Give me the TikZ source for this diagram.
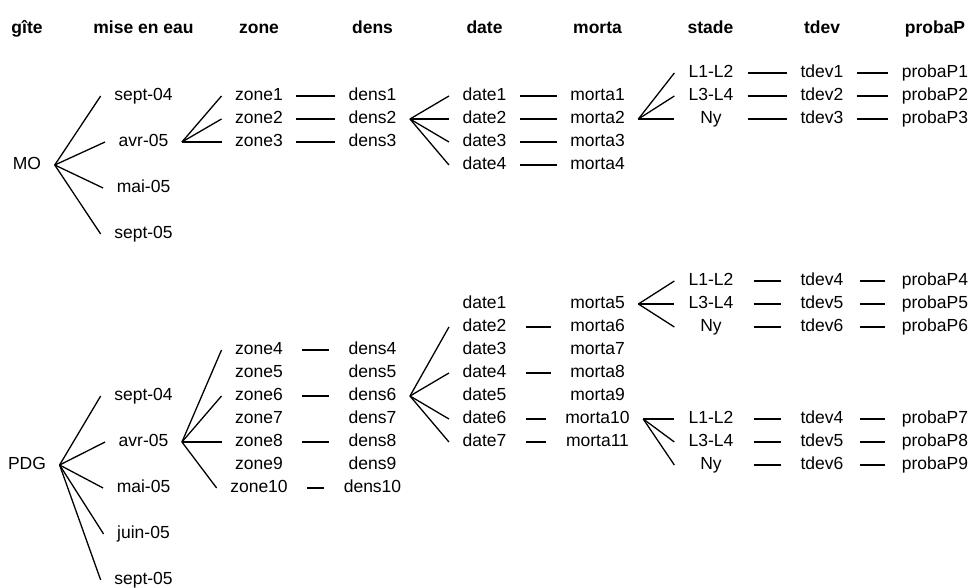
\documentclass[tikz,border=0pt]{standalone}
\usepackage{fontspec}
\setmainfont{Liberation Sans}
\usepackage{tikz}

\tikzset{
  lbl/.style={inner xsep=13pt, inner ysep=2pt, text height=12.5pt, text depth=3.5pt,
    font=\fontsize{17.5}{20}\selectfont},
  head/.style={lbl, font=\fontsize{17.5}{20}\selectfont\bfseries},
  stadebox/.style={lbl, minimum width=72pt},
  short/.style={shorten <=#1, shorten >=#1},
  short/.default=6pt,
}

\begin{document}
\begin{tikzpicture}[x=1pt, y=-1pt, line width=1.3pt]
\useasboundingbox (0,0) rectangle (970,588);

\node (hgite) at (27,29) [head] {gîte};
\node (hmise) at (143.5,29) [head] {mise en eau};
\node (hzone) at (259,29) [head] {zone};
\node (hdens) at (372.5,29) [head] {dens};
\node (hdate) at (484.5,29) [head] {date};
\node (hmorta) at (597.5,29) [head] {morta};
\node (hstade) at (710.5,29) [head] {stade};
\node (htdev) at (822,29) [head] {tdev};
\node (hproba) at (935,29) [head] {probaP};

\node (mo) at (27,165) [lbl] {MO};
\node (mo1) at (143.5,96) [lbl] {sept-04};
\node (mo2) at (143.5,142) [lbl] {avr-05};
\node (mo3) at (143.5,188) [lbl] {mai-05};
\node (mo4) at (143.5,234) [lbl] {sept-05};

\node (z1) at (259,96) [lbl] {zone1};
\node (z2) at (259,119) [lbl] {zone2};
\node (z3) at (259,142) [lbl] {zone3};
\node (d1) at (372.5,96) [lbl] {dens1};
\node (d2) at (372.5,119) [lbl] {dens2};
\node (d3) at (372.5,142) [lbl] {dens3};

\node (da1) at (484.5,96) [lbl] {date1};
\node (da2) at (484.5,119) [lbl] {date2};
\node (da3) at (484.5,142) [lbl] {date3};
\node (da4) at (484.5,165) [lbl] {date4};
\node (m1) at (597.5,96) [lbl] {morta1};
\node (m2) at (597.5,119) [lbl] {morta2};
\node (m3) at (597.5,142) [lbl] {morta3};
\node (m4) at (597.5,165) [lbl] {morta4};

\node (s1) at (711,73) [stadebox] {L1-L2};
\node (s2) at (711,96) [stadebox] {L3-L4};
\node (s3) at (711,119) [stadebox] {Ny};
\node (t1) at (822,73) [lbl] {tdev1};
\node (t2) at (822,96) [lbl] {tdev2};
\node (t3) at (822,119) [lbl] {tdev3};
\node (p1) at (935,73) [lbl] {probaP1};
\node (p2) at (935,96) [lbl] {probaP2};
\node (p3) at (935,119) [lbl] {probaP3};

\draw (mo.east) -- (mo1.west);
\draw (mo.east) -- (mo2.west);
\draw (mo.east) -- (mo3.west);
\draw (mo.east) -- (mo4.west);
\draw (mo2.east) -- (z1.west);
\draw (mo2.east) -- (z2.west);
\draw (mo2.east) -- (z3.west);
\draw (z1.east) -- (d1.west);
\draw (z2.east) -- (d2.west);
\draw (z3.east) -- (d3.west);
\draw (d2.east) -- (da1.west);
\draw (d2.east) -- (da2.west);
\draw (d2.east) -- (da3.west);
\draw (d2.east) -- (da4.west);
\draw (da1.east) -- (m1.west);
\draw (da2.east) -- (m2.west);
\draw (da3.east) -- (m3.west);
\draw (da4.east) -- (m4.west);
\draw (m2.east) -- (s1.west);
\draw (m2.east) -- (s2.west);
\draw (m2.east) -- (s3.west);
\draw (s1.east) -- (t1.west);
\draw (s2.east) -- (t2.west);
\draw (s3.east) -- (t3.west);
\draw (t1.east) -- (p1.west);
\draw (t2.east) -- (p2.west);
\draw (t3.east) -- (p3.west);

\node (pdg) at (27,465) [lbl] {PDG};
\node (pdg1) at (143.5,396) [lbl] {sept-04};
\node (pdg2) at (143.5,442) [lbl] {avr-05};
\node (pdg3) at (143.5,488) [lbl] {mai-05};
\node (pdg4) at (143.5,534) [lbl] {juin-05};
\node (pdg5) at (143.5,580) [lbl] {sept-05};

\node (z4) at (259,350) [lbl] {zone4};
\node (z5) at (259,373) [lbl] {zone5};
\node (z6) at (259,396) [lbl] {zone6};
\node (z7) at (259,419) [lbl] {zone7};
\node (z8) at (259,442) [lbl] {zone8};
\node (z9) at (259,465) [lbl] {zone9};
\node (z10) at (259,488) [lbl] {zone10};
\node (d4) at (372.5,350) [lbl] {dens4};
\node (d5) at (372.5,373) [lbl] {dens5};
\node (d6) at (372.5,396) [lbl] {dens6};
\node (d7) at (372.5,419) [lbl] {dens7};
\node (d8) at (372.5,442) [lbl] {dens8};
\node (d9) at (372.5,465) [lbl] {dens9};
\node (d10) at (372.5,488) [lbl] {dens10};

\node (db1) at (484.5,304) [lbl] {date1};
\node (db2) at (484.5,327) [lbl] {date2};
\node (db3) at (484.5,350) [lbl] {date3};
\node (db4) at (484.5,373) [lbl] {date4};
\node (db5) at (484.5,396) [lbl] {date5};
\node (db6) at (484.5,419) [lbl] {date6};
\node (db7) at (484.5,442) [lbl] {date7};
\node (m5) at (597.5,304) [lbl] {morta5};
\node (m6) at (597.5,327) [lbl] {morta6};
\node (m7) at (597.5,350) [lbl] {morta7};
\node (m8) at (597.5,373) [lbl] {morta8};
\node (m9) at (597.5,396) [lbl] {morta9};
\node (m10) at (597.5,419) [lbl] {morta10};
\node (m11) at (597.5,442) [lbl] {morta11};

\node (sa1) at (711,281) [stadebox] {L1-L2};
\node (sa2) at (711,304) [stadebox] {L3-L4};
\node (sa3) at (711,327) [stadebox] {Ny};
\node (ta1) at (822,281) [lbl] {tdev4};
\node (ta2) at (822,304) [lbl] {tdev5};
\node (ta3) at (822,327) [lbl] {tdev6};
\node (pa1) at (935,281) [lbl] {probaP4};
\node (pa2) at (935,304) [lbl] {probaP5};
\node (pa3) at (935,327) [lbl] {probaP6};

\node (sb1) at (711,419) [stadebox] {L1-L2};
\node (sb2) at (711,442) [stadebox] {L3-L4};
\node (sb3) at (711,465) [stadebox] {Ny};
\node (tb1) at (822,419) [lbl] {tdev4};
\node (tb2) at (822,442) [lbl] {tdev5};
\node (tb3) at (822,465) [lbl] {tdev6};
\node (pb1) at (935,419) [lbl] {probaP7};
\node (pb2) at (935,442) [lbl] {probaP8};
\node (pb3) at (935,465) [lbl] {probaP9};

\draw (pdg.east) -- (pdg1.west);
\draw (pdg.east) -- (pdg2.west);
\draw (pdg.east) -- (pdg3.west);
\draw (pdg.east) -- (pdg4.west);
\draw (pdg.east) -- (pdg5.west);
\draw (pdg2.east) -- (z4.west);
\draw (pdg2.east) -- (z6.west);
\draw (pdg2.east) -- (z8.west);
\draw (pdg2.east) -- (z10.west);
\draw [short] (z4.east) -- (d4.west);
\draw [short] (z6.east) -- (d6.west);
\draw [short] (z8.east) -- (d8.west);
\draw [short] (z10.east) -- (d10.west);
\draw (d6.east) -- (db2.west);
\draw (d6.east) -- (db4.west);
\draw (d6.east) -- (db6.west);
\draw (d6.east) -- (db7.west);
\draw [short] (db2.east) -- (m6.west);
\draw [short] (db4.east) -- (m8.west);
\draw [short] (db6.east) -- (m10.west);
\draw [short] (db7.east) -- (m11.west);
\draw (m5.east) -- (sa1.west);
\draw (m5.east) -- (sa2.west);
\draw (m5.east) -- (sa3.west);
\draw (m10.east) -- (sb1.west);
\draw (m10.east) -- (sb2.west);
\draw (m10.east) -- (sb3.west);
\draw [short] (sa1.east) -- (ta1.west);
\draw [short] (sa2.east) -- (ta2.west);
\draw [short] (sa3.east) -- (ta3.west);
\draw [short] (sb1.east) -- (tb1.west);
\draw [short] (sb2.east) -- (tb2.west);
\draw [short] (sb3.east) -- (tb3.west);
\draw [short=3pt] (ta1.east) -- (pa1.west);
\draw [short=3pt] (ta2.east) -- (pa2.west);
\draw [short=3pt] (ta3.east) -- (pa3.west);
\draw [short=3pt] (tb1.east) -- (pb1.west);
\draw [short=3pt] (tb2.east) -- (pb2.west);
\draw [short=3pt] (tb3.east) -- (pb3.west);
\end{tikzpicture}
\end{document}
